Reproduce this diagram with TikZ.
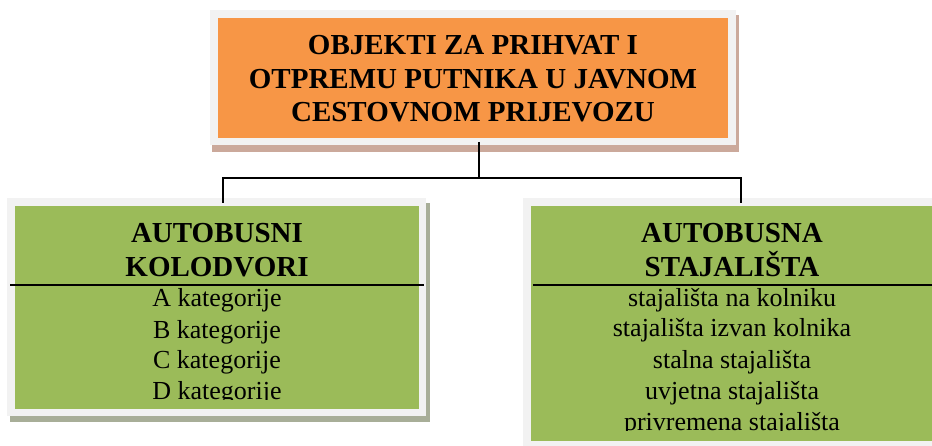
\documentclass[tikz,border=0pt]{standalone}
\usepackage{fontspec}
\setmainfont{Liberation Serif}
\definecolor{boxorange}{HTML}{F79646}
\definecolor{boxgreen}{HTML}{9BBB59}
\definecolor{framegray}{HTML}{F2F2F2}
\definecolor{shadeorange}{HTML}{CBA99B}
\definecolor{shadegreen}{HTML}{A8AE98}
\begin{document}
\begin{tikzpicture}[x=1pt,y=-1pt,
  plate/.style={rectangle,draw=none,inner sep=0pt,outer sep=0pt},
  heading/.style={inner sep=0pt,anchor=base,font=\fontsize{29}{33}\selectfont\bfseries},
  itemtext/.style={inner sep=0pt,anchor=base,font=\fontsize{26}{30}\selectfont},
  conn/.style={draw=black,line width=1.6pt,line join=miter},
  divider/.style={draw=black,line width=1.3pt}]
\clip (0,0) rectangle (932,446);
% ---- top box ----
\node[plate,fill=shadeorange,minimum width=527pt,minimum height=137pt] (topshadow) at (475.5,83.5) {};
\node[plate,fill=framegray,minimum width=526pt,minimum height=135pt] (topframe) at (473,77.5) {};
\node[plate,fill=boxorange,minimum width=510pt,minimum height=120pt] (topbox) at (473,78) {};
\node[heading] (t1) at (473,55) {OBJEKTI ZA PRIHVAT I};
\node[heading] (t2) at (473,89) {OTPREMU PUTNIKA U JAVNOM};
\node[heading] (t3) at (473,122) {CESTOVNOM PRIJEVOZU};
% ---- left box ----
\node[plate,fill=shadegreen,minimum width=420pt,minimum height=219pt] (lshadow) at (220,312.5) {};
\node[plate,fill=framegray,minimum width=419pt,minimum height=218pt] (lframe) at (216.5,307) {};
\node[plate,fill=boxgreen,minimum width=404pt,minimum height=203pt] (lbox) at (217,307.5) {};
\node[heading] (lh1) at (217,243) {AUTOBUSNI};
\node[heading] (lh2) at (217,277) {KOLODVORI};
\coordinate (ldivA) at (10,285);
\coordinate (ldivB) at (424,285);
\draw[divider] (ldivA) -- (ldivB);
\begin{scope}
\clip (15,286) rectangle (419,399.5);
\node[itemtext] (la) at (217,307) {A kategorije};
\node[itemtext] (lb) at (217,338) {B kategorije};
\node[itemtext] (lc) at (217,368.5) {C kategorije};
\node[itemtext] (ld) at (217,399.5) {D kategorije};
\end{scope}
% ---- right box ----
\node[plate,fill=shadegreen,minimum width=420pt,minimum height=250pt] (rshadow) at (736,330) {};
\node[plate,fill=framegray,minimum width=418pt,minimum height=250pt] (rframe) at (732,323) {};
\node[plate,fill=boxgreen,minimum width=402pt,minimum height=235pt] (rbox) at (732,323.5) {};
\node[heading] (rh1) at (732,243) {AUTOBUSNA};
\node[heading] (rh2) at (732,277) {STAJALIŠTA};
\coordinate (rdivA) at (533,285);
\coordinate (rdivB) at (940,285);
\draw[divider] (rdivA) -- (rdivB);
\begin{scope}
\clip (531,286) rectangle (933,430.5);
\node[itemtext] (ra) at (732,307) {stajališta na kolniku};
\node[itemtext] (rb) at (732,337) {stajališta izvan kolnika};
\node[itemtext] (rc) at (732,368) {stalna stajališta};
\node[itemtext] (rd) at (732,399.5) {uvjetna stajališta};
\node[itemtext] (re) at (732,430.5) {privremena stajališta};
\end{scope}
% ---- connectors ----
\coordinate (tstart) at (479,142);
\coordinate (hub) at (479,178);
\coordinate (lcorner) at (223,178);
\coordinate (rcorner) at (741,178);
\coordinate (ltop) at (223,203);
\coordinate (rtop) at (741,203);
\draw[conn] (tstart) -- (hub);
\draw[conn] (ltop) -- (lcorner) -- (rcorner) -- (rtop);
\end{tikzpicture}
\end{document}
